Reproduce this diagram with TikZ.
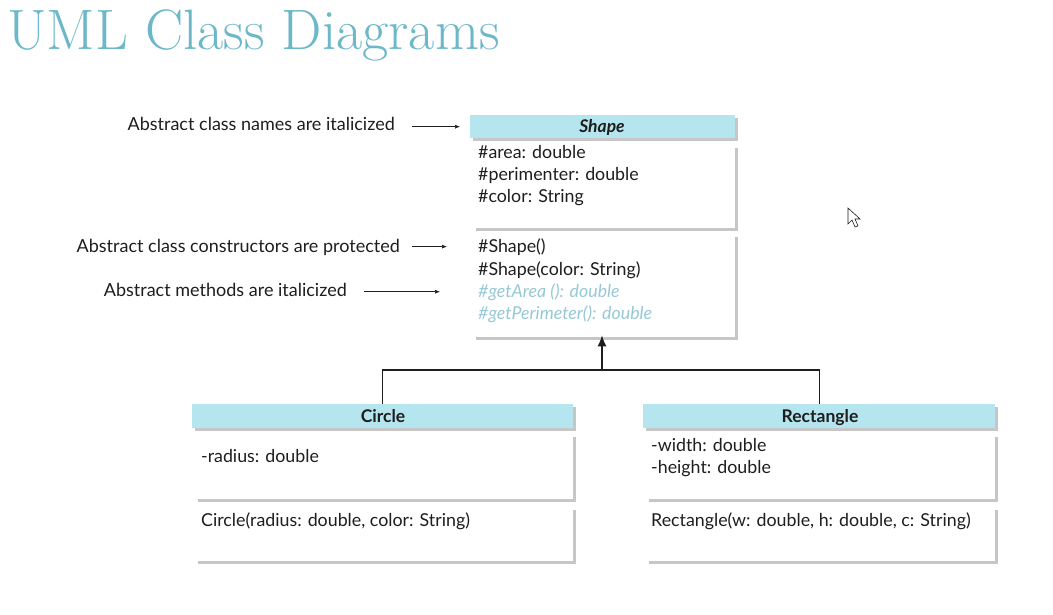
\documentclass[tikz,border=0pt]{standalone}
\usepackage{fontspec}
\setmainfont{Lato}
\newfontfamily\titlefont{Latin Modern Roman}
\usetikzlibrary{shadows,arrows.meta}
\definecolor{hdr}{RGB}{181,229,238}
\definecolor{ttl}{RGB}{108,184,200}
\definecolor{absm}{RGB}{150,201,213}
\definecolor{shd}{RGB}{198,198,198}
\definecolor{ink}{RGB}{30,30,30}
\tikzset{
  umlhead/.style={fill=hdr, draw=none, inner sep=0pt, anchor=north west,
    font=\bfseries\fontsize{17}{20}\selectfont, text=ink,
    drop shadow={shadow xshift=2.5pt, shadow yshift=-2.5pt, fill=shd, opacity=1}},
  umlpart/.style={fill=white, draw=none, inner sep=0pt, anchor=north west,
    drop shadow={shadow xshift=2.5pt, shadow yshift=-2.5pt, fill=shd, opacity=1}},
  member/.style={inner sep=0pt, anchor=base west, text=ink,
    font=\fontsize{17.8}{20}\selectfont},
  absmember/.style={member, text=absm, font=\itshape\fontsize{17.8}{20}\selectfont},
  note/.style={inner sep=0pt, anchor=base east, text=ink,
    font=\fontsize{18}{20}\selectfont},
  notearrow/.style={draw=ink, line width=0.6pt, -{Latex[length=5pt,width=4pt]}},
  link/.style={draw=ink, line width=1.1pt},
}
\begin{document}
\begin{tikzpicture}[x=1pt,y=-1pt]
\useasboundingbox (0,0) rectangle (1053,615);
\fill[white] (0,0) rectangle (1053,615);

% title
\node[inner sep=0pt, anchor=base west, text=ttl,
  font=\titlefont\fontsize{57}{60}\selectfont] (title) at (7,50) {UML Class Diagrams};

% abstract class Shape
\node[umlhead, minimum width=265pt, minimum height=23pt] (shapeH) at (470,115) {};
\node[inner sep=0pt, anchor=base, font=\bfseries\itshape\fontsize{17.5}{20}\selectfont, text=ink]
  (shapeN) at (602,133) {Shape};
\node[umlpart, minimum width=262pt, minimum height=83pt] (shapeA) at (473,145) {};
\node[umlpart, minimum width=262pt, minimum height=103pt] (shapeM) at (473,234) {};
\node[member] (sa1) at (478,159) {\#area: double};
\node[member] (sa2) at (478,181) {\#perimenter: double};
\node[member] (sa3) at (478,203) {\#color: String};
\node[member] (sm1) at (478,252) {\#Shape()};
\node[member] (sm2) at (478,275) {\#Shape(color: String)};
\node[absmember] (sm3) at (478,297) {\#getArea (): double};
\node[absmember] (sm4) at (478,319) {\#getPerimeter(): double};

% class Circle
\node[umlhead, minimum width=381pt, minimum height=24pt] (circH) at (192,404) {};
\node[inner sep=0pt, anchor=base, font=\bfseries\fontsize{17.5}{20}\selectfont, text=ink]
  (circN) at (383,422) {Circle};
\node[umlpart, minimum width=378pt, minimum height=65pt] (circA) at (195,434) {};
\node[umlpart, minimum width=378pt, minimum height=54pt] (circM) at (195,507) {};
\node[member] (ca1) at (201,462) {-radius: double};
\node[member] (cm1) at (201,526) {Circle(radius: double, color: String)};

% class Rectangle
\node[umlhead, minimum width=352pt, minimum height=24pt] (rectH) at (643,404) {};
\node[inner sep=0pt, anchor=base, font=\bfseries\fontsize{17.5}{20}\selectfont, text=ink]
  (rectN) at (820,422) {Rectangle};
\node[umlpart, minimum width=349pt, minimum height=65pt] (rectA) at (646,434) {};
\node[umlpart, minimum width=349pt, minimum height=54pt] (rectM) at (646,507) {};
\node[member] (ra1) at (651,451) {-width: double};
\node[member] (ra2) at (651,473) {-height: double};
\node[member] (rm1) at (651,526) {Rectangle(w: double, h: double, c: String)};

% generalization
\coordinate (bus) at (602,370);
\draw[link] (circH.north) |- (bus) -| (rectH.north);
\draw[link, -{Latex[length=11pt,width=9pt]}, shorten >=-2pt] (bus) -- (bus |- shapeM.south);

% annotations
\node[note] (n1) at (395,131) {Abstract class names are italicized};
\node[note] (n2) at (400,252) {Abstract class constructors are protected};
\node[note] (n3) at (347,296) {Abstract methods are italicized};
\draw[notearrow, shorten <=17pt, shorten >=10pt] (n1.east |- shapeH.west) -- (shapeH.west);
\draw[notearrow, shorten <=12pt, shorten >=26pt] (n2.east |- sm1.west) -- (sm1.west -| shapeM.west);
\draw[notearrow, shorten <=17pt, shorten >=33pt] (n3.east |- sm3.west) -- (sm3.west -| shapeM.west);

% mouse pointer
\filldraw[fill=white, draw=ink, line width=0.6pt, line join=miter]
  (848,208) -- (848,224) -- (852,220) -- (855,227) -- (858,226) -- (855,219) -- (860,219) -- cycle;
\end{tikzpicture}
\end{document}
